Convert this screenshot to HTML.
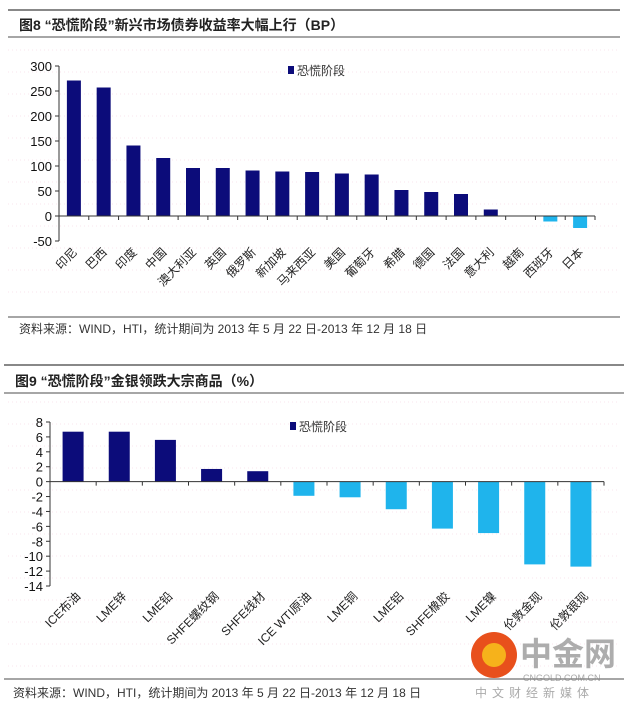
<!DOCTYPE html>
<html><head><meta charset="utf-8"><style>
body{margin:0;background:#fff;width:627px;height:705px;overflow:hidden;font-family:"Liberation Sans","Noto Sans CJK SC",sans-serif;}
svg text{font-family:"Liberation Sans","Noto Sans CJK SC",sans-serif;}
</style></head><body>
<svg id="s" width="627" height="705">
<g>
<line x1="8" y1="10" x2="620" y2="10" stroke="#888" stroke-width="2"/>
<text x="19" y="30" font-size="14" font-weight="bold" fill="#222">图8 “恐慌阶段”新兴市场债券收益率大幅上行（BP）</text>
<line x1="8" y1="37" x2="620" y2="37" stroke="#888" stroke-width="1.5"/>
</g>
<g id="c1"></g>
<g>
<line x1="8" y1="317" x2="620" y2="317" stroke="#888" stroke-width="1.5"/>
<text x="19" y="333" font-size="12" fill="#333">资料来源：WIND，HTI，统计期间为 2013 年 5 月 22 日-2013 年 12 月 18 日</text>
</g>
<g>
<line x1="4" y1="365" x2="624" y2="365" stroke="#888" stroke-width="2"/>
<text x="15" y="386" font-size="14" font-weight="bold" fill="#222">图9 “恐慌阶段”金银领跌大宗商品（%）</text>
<line x1="4" y1="393" x2="624" y2="393" stroke="#888" stroke-width="1.5"/>
</g>
<g id="c2"></g>
<g>
<circle cx="494" cy="655" r="23" fill="#e8501c"/>
<circle cx="494" cy="655" r="12" fill="#f6b21b"/>
<text x="520" y="665" font-size="32" font-weight="bold" fill="#999" opacity="0.8">中金网</text>
<text x="523" y="681" font-size="9" fill="#aaa">CNGOLD.COM.CN</text>
</g>
<g>
<line x1="4" y1="679" x2="624" y2="679" stroke="#888" stroke-width="1.5"/>
<text x="13" y="697" font-size="12" fill="#333">资料来源：WIND，HTI，统计期间为 2013 年 5 月 22 日-2013 年 12 月 18 日</text>
<text x="475" y="697" font-size="12" fill="#aaa" letter-spacing="5">中文财经新媒体</text>
</g>
</svg>
<script>
const cats1=["印尼","巴西","印度","中国","澳大利亚","英国","俄罗斯","新加坡","马来西亚","美国","葡萄牙","希腊","德国","法国","意大利","越南","西班牙","日本"];
const vals1=[271,257,141,116,96,96,91,89,88,85,83,52,48,44,13,0,-11,-24];
const ticks1=[300,250,200,150,100,50,0,-50];
const cats2=["ICE布油","LME锌","LME铅","SHFE螺纹钢","SHFE线材","ICE WTI原油","LME铜","LME铝","SHFE橡胶","LME镍","伦敦金现","伦敦银现"];
const vals2=[6.7,6.7,5.6,1.7,1.4,-1.9,-2.1,-3.7,-6.3,-6.9,-11.1,-11.4];
const ticks2=[8,6,4,2,0,-2,-4,-6,-8,-10,-12,-14];
const NS="http://www.w3.org/2000/svg";
function mk(p,t,a){const e=document.createElementNS(NS,t);for(const k in a)e.setAttribute(k,a[k]);p.appendChild(e);return e;}
function chart(g,cats,vals,ticks,o){
 const y=v=>o.y0+(v-ticks[0])*(o.y1-o.y0)/(ticks[ticks.length-1]-ticks[0]);
 const bw=(o.x1-o.x0)/cats.length;
 for(let gy=o.gTop;gy<o.gBot;gy+=22){const l=mk(g,"line",{x1:8,x2:620,y1:gy,y2:gy,stroke:"#f8e6ee","stroke-dasharray":"1 3"});
 
 }
 ticks.forEach(t=>{const tl=mk(g,"line",{x1:o.x0-4,x2:o.x0,y1:y(t),y2:y(t),stroke:"#333"});
 
 
 const tx=mk(g,"text",{x:o.x0-7,y:y(t)+5,"text-anchor":"end","font-size":13,fill:"#111"});tx.textContent=t;
 
 });
 cats.forEach((c,i)=>{const v=vals[i];const cx=o.x0+bw*(i+0.5);
  const r=mk(g,"rect",{x:cx-o.bar/2,y:Math.min(y(v),y(0)),width:o.bar,height:Math.abs(y(v)-y(0)),fill:v>=0?"#0c0c7a":"#1fb4ec"});
  
  
  const tk=mk(g,"line",{x1:o.x0+bw*(i+1),x2:o.x0+bw*(i+1),y1:y(0),y2:y(0)+4,stroke:"#333"});
  
  
  const lx=cx+o.lx,ly=o.ly;
  const t=mk(g,"text",{x:lx,y:ly,"text-anchor":"end","font-size":o.fs,fill:"#222",transform:`rotate(-45 ${lx} ${ly})`});t.textContent=c;
  
  });
 const ya=mk(g,"line",{x1:o.x0,x2:o.x0,y1:y(ticks[0]),y2:y(ticks[ticks.length-1]),stroke:"#333"});
 
 
 const xa=mk(g,"line",{x1:o.x0,x2:o.x1,y1:y(0),y2:y(0),stroke:"#333"});
 
 
 const lr=mk(g,"rect",{x:o.lgx,y:o.lgy-4,width:6,height:8,fill:"#0c0c7a"});
 
 
 const lt=mk(g,"text",{x:o.lgx+9,y:o.lgy+5,"font-size":12,fill:"#333"});lt.textContent="恐慌阶段";
 
 
}
chart(document.getElementById("c1"),cats1,vals1,ticks1,{x0:59,x1:595,y0:66,y1:241,bar:14,lx:4,ly:253,fs:12,lgx:288,lgy:70,gTop:50,gBot:310});
chart(document.getElementById("c2"),cats2,vals2,ticks2,{x0:50,x1:604,y0:422,y1:586,bar:21,lx:8,ly:597,fs:12,lgx:290,lgy:426,gTop:402,gBot:675});
</script>
</body></html>
